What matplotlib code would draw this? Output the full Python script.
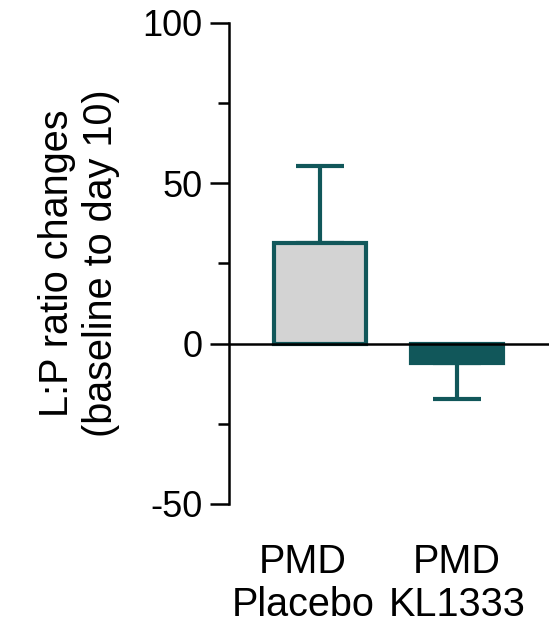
import matplotlib
matplotlib.use("Agg")
import matplotlib.pyplot as plt
from matplotlib.ticker import MultipleLocator

# ── data ──────────────────────────────
groups = ["PMD\nPlacebo", "PMD\nKL1333"]
means = [31.5, -5.9]
errors = [24.0, 11.3]   # one-sided SEM

teal = "#11575a"
fills = ["#d3d3d3", teal]

plt.rcParams["font.family"] = ["Liberation Sans", "DejaVu Sans"]
plt.rcParams["axes.unicode_minus"] = False

fig = plt.figure(figsize=(5.51, 6.26), dpi=100)
ax = fig.add_axes([0.4156, 0.1949, 0.5808, 0.7684])

x = list(range(len(groups)))
for i, (m, e, fc) in enumerate(zip(means, errors, fills)):
    ax.bar(i, m, width=0.67, color=fc, edgecolor=teal, linewidth=3, zorder=2)
    lo = [0] if m > 0 else [e]
    hi = [e] if m > 0 else [0]
    ax.errorbar(i, m, yerr=[lo, hi], fmt="none", ecolor=teal,
                elinewidth=3, capsize=17.5, capthick=3, zorder=1)

ax.axhline(0, color="black", linewidth=1.8, zorder=3)

ax.set_xlim(-0.664, 1.672)
ax.set_ylim(-50, 100)
ax.yaxis.set_major_locator(MultipleLocator(50))
ax.yaxis.set_minor_locator(MultipleLocator(25))
ax.tick_params(axis="y", which="major", length=14, width=1.8, labelsize=26, pad=5)
ax.tick_params(axis="y", which="minor", length=8, width=1.8)
# first label sits a little left of its bar, as in the original
ax.set_xticks([x[0] - 0.124, x[1]])
ax.set_xticklabels(groups, fontsize=28.5, linespacing=1.18)
ax.tick_params(axis="x", length=0, pad=28)

for s in ["top", "right", "bottom"]:
    ax.spines[s].set_visible(False)
ax.spines["left"].set_linewidth(1.8)

ax.set_ylabel("L:P ratio changes\n(baseline to day 10)", fontsize=28.5,
              linespacing=1.22, labelpad=16)

fig.savefig("out.png", dpi=100)
